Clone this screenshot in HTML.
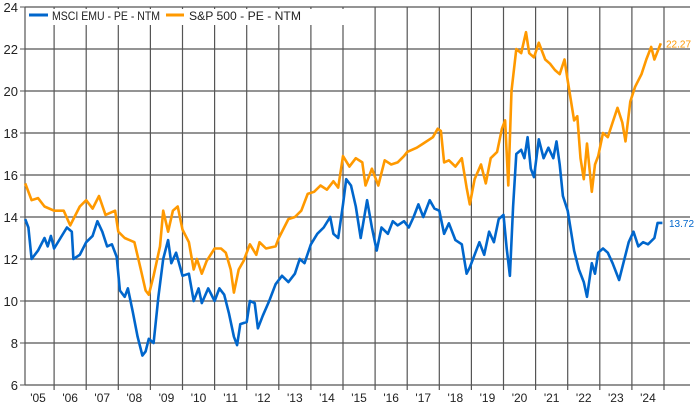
<!DOCTYPE html>
<html><head><meta charset="utf-8"><style>
html,body{margin:0;padding:0;background:#fff;width:700px;height:409px;overflow:hidden}
svg{display:block;font-family:"Liberation Sans",sans-serif}
</style></head><body>
<svg id="c" width="700" height="409" viewBox="0 0 700 409"></svg>
<script>
const X=t=>22+(t-2005)*32.1, Y=v=>7+(24-v)*21;
let s='';
for(let v=6;v<=24;v+=2){s+=`<line x1="25" x2="690" y1="${Y(v)}" y2="${Y(v)}" stroke="#555" stroke-width="1.2"/>`;
s+=`<text x="18" y="${Y(v)+5}" font-size="13" text-anchor="end" fill="#222">${v}</text>`;
s+=`<line x1="20" x2="25" y1="${Y(v)}" y2="${Y(v)}" stroke="#555"/>`;}
for(let y=2006;y<=2025;y++){s+=`<line x1="${X(y)}" x2="${X(y)}" y1="${Y(24)}" y2="${Y(6)+5}" stroke="#555" stroke-width="1.2"/>`;}
s+=`<line x1="25" x2="25" y1="${Y(24)}" y2="${Y(6)}" stroke="#555" stroke-width="1.2"/>`;
for(let y=2005;y<=2024;y++){s+=`<text x="${X(y+0.5)}" y="402" font-size="12" text-anchor="middle" fill="#222">'${String(y).slice(2)}</text>`;}
const sp=[[2005.1,15.6],[2005.3,14.8],[2005.5,14.9],[2005.7,14.5],[2006,14.3],[2006.3,14.3],[2006.5,13.6],[2006.8,14.5],[2007,14.8],[2007.2,14.4],[2007.4,15],[2007.6,14.1],[2007.9,14.3],[2008,13.3],[2008.2,13],[2008.5,12.8],[2008.7,11.5],[2008.85,10.5],[2008.95,10.3],[2009.1,11.2],[2009.3,12.6],[2009.4,14.3],[2009.55,13.3],[2009.7,14.3],[2009.85,14.5],[2010,13.4],[2010.2,12.8],[2010.35,11.5],[2010.45,12],[2010.6,11.3],[2010.75,11.9],[2011,12.5],[2011.2,12.5],[2011.35,12.3],[2011.5,11.5],[2011.6,10.4],[2011.75,11.5],[2011.9,11.9],[2012.1,12.7],[2012.3,12.2],[2012.4,12.8],[2012.6,12.5],[2012.9,12.6],[2013,13],[2013.3,13.9],[2013.5,14],[2013.7,14.3],[2013.9,15.1],[2014.1,15.2],[2014.3,15.5],[2014.5,15.3],[2014.7,15.7],[2014.85,15.4],[2015,16.9],[2015.2,16.4],[2015.4,16.8],[2015.6,16.6],[2015.7,15.5],[2015.9,16.3],[2016.1,15.5],[2016.3,16.7],[2016.5,16.5],[2016.7,16.6],[2016.9,16.9],[2017,17.1],[2017.3,17.3],[2017.5,17.5],[2017.8,17.8],[2017.95,18.2],[2018.05,18.1],[2018.15,16.6],[2018.3,16.7],[2018.5,16.4],[2018.7,16.8],[2018.85,15.4],[2018.95,14.6],[2019.1,15.8],[2019.3,16.5],[2019.45,15.6],[2019.6,16.8],[2019.8,17.1],[2019.95,18.2],[2020.05,18.6],[2020.15,15.5],[2020.25,20],[2020.4,22],[2020.55,21.8],[2020.7,22.8],[2020.8,21.8],[2020.95,21.6],[2021.1,22.3],[2021.3,21.5],[2021.45,21.3],[2021.6,21],[2021.75,20.8],[2021.9,21.5],[2022,20.5],[2022.2,18.6],[2022.3,18.8],[2022.4,16.8],[2022.5,15.8],[2022.6,17.5],[2022.75,15.2],[2022.85,16.5],[2022.95,16.9],[2023.1,18],[2023.25,17.8],[2023.4,18.5],[2023.55,19.2],[2023.7,18.5],[2023.8,17.6],[2023.95,19.5],[2024.1,20.2],[2024.3,20.8],[2024.45,21.5],[2024.6,22.1],[2024.7,21.5],[2024.9,22.27]];
const ms=[[2005.1,13.9],[2005.2,13.5],[2005.3,12],[2005.5,12.4],[2005.7,13],[2005.8,12.6],[2005.9,13.1],[2006,12.5],[2006.2,13],[2006.4,13.5],[2006.55,13.3],[2006.6,12],[2006.8,12.2],[2007,12.8],[2007.2,13.1],[2007.35,13.8],[2007.5,13.3],[2007.65,12.6],[2007.8,12.7],[2007.95,12.1],[2008.05,10.5],[2008.2,10.2],[2008.3,10.6],[2008.45,9.5],[2008.6,8.3],[2008.75,7.4],[2008.85,7.6],[2008.95,8.2],[2009.1,8],[2009.25,10.2],[2009.4,12],[2009.55,12.9],[2009.65,11.8],[2009.8,12.3],[2010,11.2],[2010.2,11.3],[2010.35,10],[2010.5,10.6],[2010.6,9.9],[2010.8,10.6],[2011,10],[2011.15,10.6],[2011.3,10.3],[2011.45,9.4],[2011.6,8.3],[2011.7,7.9],[2011.8,8.9],[2012,9],[2012.1,10],[2012.25,9.9],[2012.35,8.7],[2012.5,9.3],[2012.7,10],[2012.9,10.8],[2013.1,11.2],[2013.3,10.9],[2013.5,11.3],[2013.65,12],[2013.8,11.8],[2014,12.7],[2014.2,13.2],[2014.4,13.5],[2014.6,14],[2014.7,13.2],[2014.85,13],[2015,14.6],[2015.1,15.8],[2015.25,15.5],[2015.4,14.5],[2015.55,13],[2015.75,14.8],[2015.9,13.5],[2016.05,12.4],[2016.2,13.5],[2016.4,13.2],[2016.55,13.8],[2016.7,13.6],[2016.9,13.8],[2017.05,13.5],[2017.2,14],[2017.35,14.6],[2017.5,14],[2017.7,14.8],[2017.85,14.4],[2018,14.3],[2018.15,13.2],[2018.3,13.7],[2018.5,12.9],[2018.7,12.7],[2018.85,11.3],[2018.95,11.6],[2019.1,12.2],[2019.25,12.8],[2019.4,12.2],[2019.55,13.3],[2019.7,12.8],[2019.85,13.9],[2020,14.1],[2020.1,12.5],[2020.2,11.2],[2020.3,14.5],[2020.4,17],[2020.55,17.2],[2020.65,16.8],[2020.75,17.8],[2020.85,16.3],[2020.95,15.9],[2021.1,17.7],[2021.25,16.8],[2021.4,17.3],[2021.55,16.8],[2021.65,17.6],[2021.75,16.5],[2021.85,15],[2022,14.3],[2022.2,12.4],[2022.35,11.5],[2022.5,10.9],[2022.6,10.2],[2022.75,11.8],[2022.85,11.3],[2022.95,12.3],[2023.1,12.5],[2023.25,12.3],[2023.4,11.8],[2023.6,11],[2023.75,11.9],[2023.9,12.8],[2024.05,13.3],[2024.2,12.6],[2024.35,12.8],[2024.5,12.7],[2024.7,13],[2024.8,13.72],[2024.95,13.72]];
const pl=(d,c)=>`<polyline fill="none" stroke="${c}" stroke-width="2.6" stroke-linejoin="round" points="${d.map(p=>X(p[0]).toFixed(1)+','+Y(p[1]).toFixed(1)).join(' ')}"/>`;
s+=pl(sp,'#ff9900')+pl(ms,'#0066cc');
s+=`<text x="666" y="${Y(22.27)+4}" font-size="10" fill="#ff9900">22.27</text>`;
s+=`<text x="669" y="${Y(13.72)+4}" font-size="10" fill="#0066cc">13.72</text>`;
s+=`<rect x="27" y="9" width="320" height="16" fill="#fff"/>`;
s+=`<line x1="29" x2="48" y1="15" y2="15" stroke="#0066cc" stroke-width="3"/><text x="52" y="20" font-size="12" textLength="108" lengthAdjust="spacingAndGlyphs" fill="#222">MSCI EMU - PE - NTM</text>`;
s+=`<line x1="166" x2="184" y1="15" y2="15" stroke="#ff9900" stroke-width="3"/><text x="189" y="20" font-size="12" textLength="112" lengthAdjust="spacingAndGlyphs" fill="#222">S&amp;P 500 - PE - NTM</text>`;
document.getElementById('c').innerHTML=s;
</script>
</body></html>
